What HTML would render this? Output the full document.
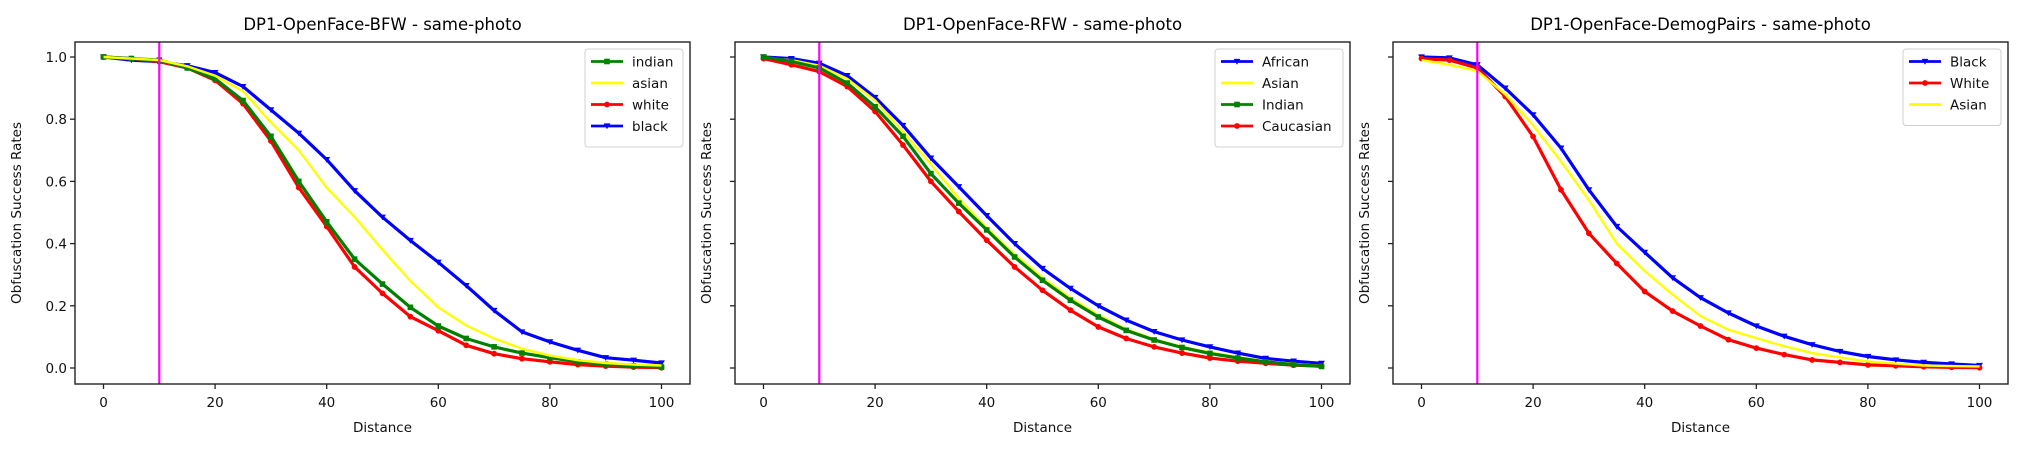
<!DOCTYPE html>
<html><head><meta charset="utf-8"><style>
html,body{margin:0;padding:0;background:#fff;}
svg{display:block;font-family:"DejaVu Sans","Liberation Sans",sans-serif;}
</style></head><body>
<svg id="fig" width="2025" height="450" viewBox="0 0 2025 450" xmlns="http://www.w3.org/2000/svg"></svg>
<script>
const xs = [0,5,10,15,20,25,30,35,40,45,50,55,60,65,70,75,80,85,90,95,100];
const xTicks = [0,20,40,60,80,100];
const yTicks = [0.0,0.2,0.4,0.6,0.8,1.0];
const yTickLabels = ["0.0","0.2","0.4","0.6","0.8","1.0"];
const thresholdX = 10;

const p1Titles = "DP1-OpenFace-BFW - same-photo";
const p1Indian = [1.0,0.995,0.99,0.965,0.93,0.86,0.745,0.6,0.47,0.35,0.27,0.195,0.135,0.095,0.068,0.048,0.033,0.02,0.012,0.007,0.003];
const p1Asian  = [1.0,0.995,0.99,0.97,0.94,0.89,0.79,0.70,0.58,0.486,0.38,0.28,0.195,0.137,0.095,0.062,0.04,0.025,0.016,0.011,0.008];
const p1White  = [1.0,0.995,0.985,0.965,0.925,0.85,0.73,0.58,0.455,0.325,0.24,0.165,0.12,0.073,0.046,0.03,0.02,0.011,0.006,0.003,0.001];
const p1Black  = [1.0,0.99,0.985,0.972,0.95,0.905,0.83,0.755,0.67,0.57,0.485,0.41,0.34,0.265,0.185,0.116,0.084,0.057,0.033,0.025,0.016];

const p2Title = "DP1-OpenFace-RFW - same-photo";
const p2African   = [1.0,0.995,0.98,0.94,0.87,0.78,0.675,0.583,0.49,0.40,0.32,0.256,0.2,0.154,0.117,0.09,0.068,0.048,0.031,0.022,0.015];
const p2Asian     = [0.995,0.99,0.972,0.93,0.86,0.76,0.655,0.545,0.45,0.365,0.29,0.225,0.17,0.125,0.093,0.068,0.05,0.035,0.022,0.013,0.007];
const p2Indian    = [1.0,0.986,0.965,0.916,0.84,0.745,0.625,0.53,0.444,0.357,0.282,0.218,0.164,0.121,0.09,0.066,0.047,0.032,0.02,0.011,0.005];
const p2Caucasian = [0.995,0.975,0.953,0.905,0.825,0.717,0.6,0.503,0.411,0.325,0.25,0.186,0.132,0.095,0.068,0.048,0.032,0.022,0.015,0.009,0.006];

const p3Title = "DP1-OpenFace-DemogPairs - same-photo";
const p3Black = [1.0,0.997,0.975,0.9,0.814,0.707,0.573,0.455,0.372,0.29,0.226,0.177,0.135,0.102,0.075,0.053,0.037,0.026,0.018,0.013,0.008];
const p3White = [0.995,0.99,0.965,0.873,0.744,0.573,0.433,0.336,0.246,0.183,0.135,0.091,0.064,0.043,0.026,0.018,0.01,0.007,0.004,0.002,0.001];
const p3Asian = [0.99,0.975,0.955,0.88,0.78,0.664,0.54,0.4,0.312,0.236,0.167,0.123,0.096,0.07,0.048,0.034,0.021,0.014,0.008,0.006,0.005];

const NS = "http://www.w3.org/2000/svg";
const svg = document.getElementById('fig');
function mk(tag, attrs, parent){
  const e = document.createElementNS(NS, tag);
  for (const k in attrs) e.setAttribute(k, attrs[k]);
  (parent||svg).appendChild(e);
  return e;
}
const TOP = 42, BOT = 384, W = 615;
function yScale(v){ return 368 - v*311; }

function marker(g, type, x, y, color){
  let m;
  if (type === 'v') m = mk('polygon', {points:`${x-3.4},${y-2.6} ${x+3.4},${y-2.6} ${x},${y+3.2}`, fill:color}, g);
  else if (type === 's') m = mk('rect', {x:x-2.8, y:y-2.8, width:5.6, height:5.6, fill:color}, g);
  else if (type === 'o') m = mk('circle', {cx:x, cy:y, r:2.9, fill:color}, g);
  if (m) {
    
    
  }
}

function panel(left, title, series, showYLabels, pid){
  const g = mk('g', {});
  
  
  const x0 = left + 28.5, ux = 5.58;
  const xScale = v => x0 + v*ux;
  const t = mk('text', {x:left+W/2, y:30, 'text-anchor':'middle', 'font-size':'16.5', fill:'#000'}, g);
  t.textContent = title;
  
  
  series.forEach(s => {
    const sg = mk('g', {}, g);
    
    
    const pts = xs.map((x,i) => xScale(x).toFixed(1) + ',' + yScale(s.data[i]).toFixed(1)).join(' ');
    const pl = mk('polyline', {points:pts, fill:'none', stroke:s.color, 'stroke-width': s.m ? 3.2 : 2.4, 'stroke-linejoin':'round'}, sg);
    
    
    if (s.m) xs.forEach((x,i) => marker(sg, s.m, xScale(x), yScale(s.data[i]), s.color));
  });
  const vl = mk('line', {x1:xScale(thresholdX), x2:xScale(thresholdX), y1:TOP, y2:BOT, stroke:'#ff00ff', 'stroke-width':2.2}, g);
  
  
  const fr = mk('rect', {x:left, y:TOP, width:W, height:BOT-TOP, fill:'none', stroke:'#222', 'stroke-width':1.4}, g);
  
  
  xTicks.forEach(v => {
    const tx = xScale(v);
    const tl = mk('line', {x1:tx, x2:tx, y1:BOT, y2:BOT+5, stroke:'#222', 'stroke-width':1.3}, g);
    
    
    const lb = mk('text', {x:tx, y:407, 'text-anchor':'middle', 'font-size':'13.5', fill:'#111'}, g);
    lb.textContent = String(v);
    
    
  });
  yTicks.forEach((v,i) => {
    const ty = yScale(v);
    const tl = mk('line', {x1:left-5, x2:left, y1:ty, y2:ty, stroke:'#222', 'stroke-width':1.3}, g);
    
    
    if (showYLabels) {
      const lb = mk('text', {x:left-8, y:ty+5, 'text-anchor':'end', 'font-size':'13.5', fill:'#111'}, g);
      lb.textContent = yTickLabels[i];
      
      
    }
  });
  const xl = mk('text', {x:x0 + 50*ux, y:432, 'text-anchor':'middle', 'font-size':'13.5', fill:'#111'}, g);
  xl.textContent = 'Distance';
  
  
  const ylx = showYLabels ? left-54 : left-24;
  const yl = mk('text', {x:ylx, y:213, 'text-anchor':'middle', 'font-size':'13.5', fill:'#111', transform:`rotate(-90 ${ylx} 213)`}, g);
  yl.textContent = 'Obfuscation Success Rates';
  
  
  const lw = 98 + (series.some(s => s.name.length > 7) ? 30 : 0);
  const lx = left + W - 7 - lw, ly = 49;
  const lh = 12 + series.length*21.5;
  const lg = mk('g', {}, g);
  
  
  const lbx = mk('rect', {x:lx, y:ly, width:lw, height:lh, rx:3, fill:'#fff', 'fill-opacity':0.85, stroke:'#d0d0d0', 'stroke-width':1}, lg);
  
  
  series.slice().sort((a,b)=>a.li-b.li).forEach((s,i) => {
    const ey = ly + 12.5 + i*21.5;
    const eg = mk('g', {}, lg);
    
    
    mk('line', {x1:lx+6, x2:lx+38, y1:ey, y2:ey, stroke:s.color, 'stroke-width':2.8}, eg);
    if (s.m) marker(eg, s.m, lx+22, ey, s.color);
    const et = mk('text', {x:lx+47, y:ey+5, 'font-size':'13.5', fill:'#111'}, eg);
    et.textContent = s.name;
    
    
  });
}

panel(75, p1Titles, [
  {name:'black', data:p1Black, color:'#0000ff', m:'v', li:3},
  {name:'white', data:p1White, color:'#ff0000', m:'o', li:2},
  {name:'indian', data:p1Indian, color:'#008000', m:'s', li:0},
  {name:'asian', data:p1Asian, color:'#ffff00', m:null, li:1}
], true, 'panel-bfw');

panel(735, p2Title, [
  {name:'African', data:p2African, color:'#0000ff', m:'v', li:0},
  {name:'Asian', data:p2Asian, color:'#ffff00', m:null, li:1},
  {name:'Caucasian', data:p2Caucasian, color:'#ff0000', m:'o', li:3},
  {name:'Indian', data:p2Indian, color:'#008000', m:'s', li:2}
], false, 'panel-rfw');

panel(1393, p3Title, [
  {name:'Black', data:p3Black, color:'#0000ff', m:'v', li:0},
  {name:'White', data:p3White, color:'#ff0000', m:'o', li:1},
  {name:'Asian', data:p3Asian, color:'#ffff00', m:null, li:2}
], false, 'panel-demogpairs');
</script>
</body></html>
